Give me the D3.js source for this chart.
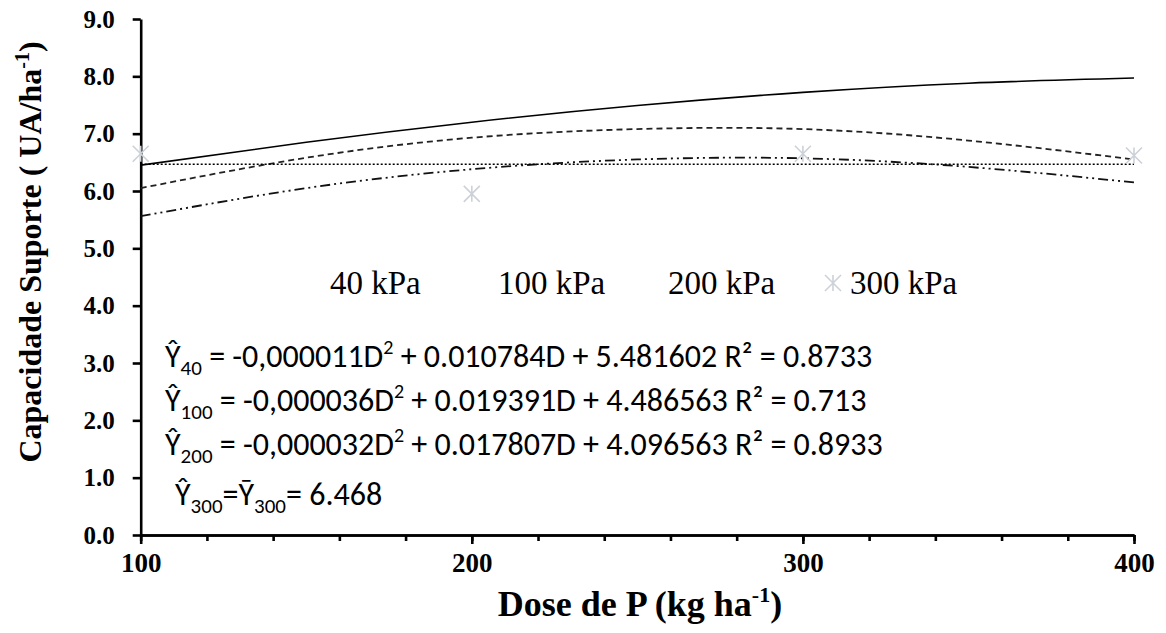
<!DOCTYPE html>
<html><head><meta charset="utf-8">
<script src="https://cdn.jsdelivr.net/npm/d3@7"></script>
<style>
body{margin:0;background:#fff;}
svg{display:block;}
</style></head>
<body>
<svg id="c" width="1166" height="633"></svg>
<script>
// ---- data ----
const doses = [100, 150, 200, 250, 300, 350, 400];
const y40  = [6.45, 6.85, 7.20, 7.49, 7.72, 7.88, 7.97];
const y100 = [6.05, 6.58, 6.93, 7.08, 7.08, 6.88, 6.55];
const y200 = [5.56, 6.05, 6.38, 6.55, 6.57, 6.42, 6.15];
const y300mean = [6.468, 6.468, 6.468, 6.468, 6.468, 6.468, 6.468];
const obsDoses = [100, 200, 300, 400];
const obs300 = [6.65, 5.95, 6.65, 6.62];
const seriesNames = ["40 kPa", "100 kPa", "200 kPa", "300 kPa"];
const yTicks = [0,1,2,3,4,5,6,7,8,9];
const xMajor = [100, 200, 300, 400];
const xMinor = [100,120,140,160,180,200,220,240,260,280,300,320,340,360,380,400];

const svg = d3.select("#c");
const x = d3.scaleLinear().domain([100, 400]).range([140.7, 1134]);
const y = d3.scaleLinear().domain([0, 9]).range([535, 19]);

// axes
const serif = "'Liberation Serif','Times New Roman',serif";
const yAx = svg.append("g").attr("transform", `translate(${x(100)},0)`)
  .call(d3.axisLeft(y).tickValues(yTicks).tickFormat(d3.format(".1f")).tickSize(8).tickSizeOuter(0).tickPadding(18));
const xMin = svg.append("g").attr("transform", `translate(0,${y(0)})`)
  .call(d3.axisBottom(x).tickValues(xMinor).tickFormat("").tickSize(6).tickSizeOuter(0));
const xAx = svg.append("g").attr("transform", `translate(0,${y(0)})`)
  .call(d3.axisBottom(x).tickValues(xMajor).tickFormat(d3.format("d")).tickSize(9).tickSizeOuter(0).tickPadding(9));
[yAx, xMin, xAx].forEach(g => {
  g.selectAll(".domain").attr("stroke", "#000").attr("stroke-width", 2.6);
  g.selectAll(".tick line").attr("stroke", "#000").attr("stroke-width", 2.6);
  g.selectAll("text").attr("font-family", serif).attr("font-weight", "bold").attr("fill", "#000");
});
yAx.selectAll("text").attr("font-size", 25);
xAx.selectAll("text").attr("font-size", 27);

// axis titles
const xt = svg.append("text").attr("x", 640).attr("y", 616).attr("text-anchor", "middle")
  .attr("font-family", serif).attr("font-weight", "bold").attr("font-size", 36);
xt.append("tspan").text("Dose de P (kg ha");
xt.append("tspan").attr("font-size", 22).attr("dy", -14).text("-1");
xt.append("tspan").attr("dy", 14).text(")");

const yt = svg.append("text").attr("transform", "translate(41,252) rotate(-90)").attr("text-anchor", "middle")
  .attr("font-family", serif).attr("font-weight", "bold").attr("font-size", 32);
yt.append("tspan").text("Capacidade Suporte ( UA/ha");
yt.append("tspan").attr("font-size", 20).attr("dy", -12).text("-1");
yt.append("tspan").attr("dy", 12).text(")");

// curves
const line = d3.line().x((d, i) => x(doses[i])).y(d => y(d)).curve(d3.curveNatural);
const styles = [
  {data: y40, dash: null, w: 1.6, c: "#000"},
  {data: y100, dash: "6,4", w: 1.8, c: "#222"},
  {data: y200, dash: "10,4,2,4,2,4", w: 1.8, c: "#111"},
  {data: y300mean, dash: "2,2", w: 1.5, c: "#000"}
];
styles.forEach(s => {
  svg.append("path").attr("d", line(s.data)).attr("fill", "none")
    .attr("stroke", s.c).attr("stroke-width", s.w).attr("stroke-dasharray", s.dash);
});

// markers (asterisk)
function star(g, cx, cy, r) {
  const p = `M${cx-r},${cy-r}L${cx+r},${cy+r}M${cx-r},${cy+r}L${cx+r},${cy-r}M${cx},${cy-r}L${cx},${cy+r}`;
  g.append("path").attr("d", p).attr("stroke", "#cdd1d8").attr("stroke-width", 1.6).attr("fill", "none");
}
const mk = svg.append("g");
obs300.forEach((v, i) => star(mk, x(obsDoses[i]), y(v), 8));

// legend
const legX = [330, 498, 668, 850];
const lg = svg.append("g");
seriesNames.forEach((n, i) => {
  lg.append("text").attr("x", legX[i]).attr("y", 294).attr("font-family", serif)
    .attr("font-size", 33).attr("fill", "#000").text(n);
});
star(lg, 833, 283, 8);

// equations
const sans = "Carlito,Lato,'Open Sans',sans-serif";
const eqs = [
  {sub: "40", a: "-0,000011", b: "0.010784", c: "5.481602", r: "0.8733"},
  {sub: "100", a: "-0,000036", b: "0.019391", c: "4.486563", r: "0.713"},
  {sub: "200", a: "-0,000032", b: "0.017807", c: "4.096563", r: "0.8933"}
];
const eqY = [367, 411, 455];
eqs.forEach((e, i) => {
  const t = svg.append("text").attr("x", 165).attr("y", eqY[i]).attr("font-family", sans)
    .attr("font-size", 32).attr("fill", "#000");
  t.append("tspan").text("Ŷ");
  t.append("tspan").attr("font-size", 21).attr("dy", 8).text(e.sub);
  t.append("tspan").attr("dy", -8).text(` = ${e.a}D`);
  t.append("tspan").attr("font-size", 20).attr("dy", -13).text("2");
  t.append("tspan").attr("dy", 13).text(` + ${e.b}D + ${e.c} R² = ${e.r}`);
});
const t4 = svg.append("text").attr("x", 175).attr("y", 505).attr("font-family", sans)
  .attr("font-size", 32).attr("fill", "#000");
t4.append("tspan").text("Ŷ");
t4.append("tspan").attr("font-size", 21).attr("dy", 8).text("300");
t4.append("tspan").attr("dy", -8).text("=Ȳ");
t4.append("tspan").attr("font-size", 21).attr("dy", 8).text("300");
t4.append("tspan").attr("dy", -8).text("= 6.468");
</script>
</body></html>
